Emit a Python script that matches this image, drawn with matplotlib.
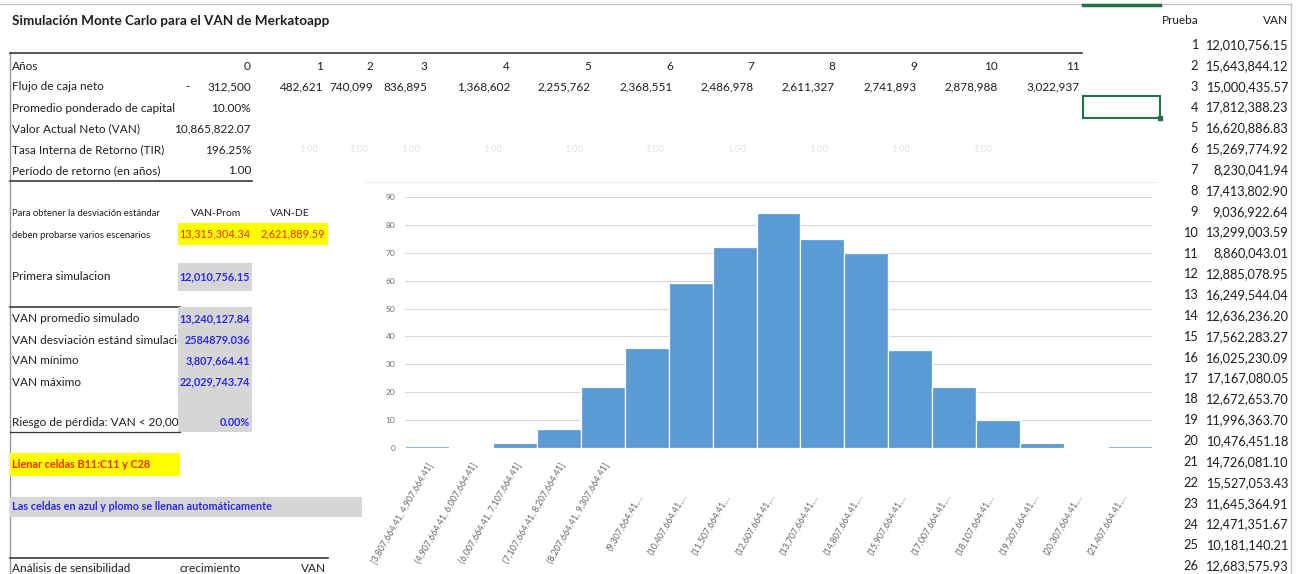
import matplotlib.pyplot as plt
from matplotlib.patches import Rectangle

plt.rcParams['font.family'] = ['Lato', 'DejaVu Sans']

# flujo de caja del proyecto
anios = list(range(12))
flujo_caja = [-312500, 482621, 740099, 836895, 1368602, 2255762, 2368551,
              2486978, 2611327, 2741893, 2878988, 3022937]

# indicadores del proyecto
wacc = 0.10
van = 10865822.07
tir = 1.9625
periodo_retorno = 1.00
van_prom = 13315304.34
van_de = 2621889.59
primera_sim = 12010756.15
van_sim_prom = 13240127.84
van_sim_de = 2584879.036
van_min = 3807664.41
van_max = 22029743.74
riesgo = 0.0

# primeras pruebas de la simulacion
pruebas = list(range(1, 27))
van_pruebas = [12010756.15, 15643844.12, 15000435.57, 17812388.23, 16620886.83,
               15269774.92, 8230041.94, 17413802.90, 9036922.64, 13299003.59,
               8860043.01, 12885078.95, 16249544.04, 12636236.20, 17562283.27,
               16025230.09, 17167080.05, 12672653.70, 11996363.70, 10476451.18,
               14726081.10, 15527053.43, 11645364.91, 12471351.67, 10181140.21,
               12683575.93]

# histograma del VAN simulado
intervalos = ['[3,807,664.41, 4,907,664.41]', '(4,907,664.41, 6,007,664.41]',
              '(6,007,664.41, 7,107,664.41]', '(7,107,664.41, 8,207,664.41]',
              '(8,207,664.41, 9,307,664.41]', '(9,307,664.41,…',
              '(10,407,664.41,…', '(11,507,664.41,…', '(12,607,664.41,…',
              '(13,707,664.41,…', '(14,807,664.41,…', '(15,907,664.41,…',
              '(17,007,664.41,…', '(18,107,664.41,…', '(19,207,664.41,…',
              '(20,307,664.41,…', '(21,407,664.41,…']
frecuencias = [1, 0, 2, 7, 22, 36, 59, 72, 84, 75, 70, 35, 22, 10, 2, 0, 1]

W, H = 1297, 574
fig = plt.figure(figsize=(W / 100, H / 100), dpi=100)
bg = fig.add_axes([0, 0, 1, 1])
bg.set_xlim(0, W)
bg.set_ylim(H, 0)
bg.axis('off')

TXT = '#1e1e1e'
AZUL = '#2b2bf0'
ROJO = '#ff2200'
PLOMO = '#d6d6d6'
FS = 8.5


def cell(x, y, s, ha='left', size=FS, color=TXT, weight='normal', z=2):
    bg.text(x, y, s, ha=ha, va='center', fontsize=size, color=color,
            fontweight=weight, zorder=z)


def hline(y, x0, x1, color='#3a3a3a', lw=1.2):
    bg.plot([x0, x1], [y, y], color=color, lw=lw, zorder=3)


def box(x0, y0, x1, y1, color):
    bg.add_patch(Rectangle((x0, y0), x1 - x0, y1 - y0, color=color, zorder=3, lw=0))


# marco de la hoja
hline(4, 0, 1291, color='#c4c4c4', lw=1)
bg.plot([1291, 1291], [4, H], color='#c4c4c4', lw=1)
bg.plot([9.5, 9.5], [52, H], color='#9a9a9a', lw=1)
hline(5, 1083, 1160, color='#217346', lw=2.5)

cell(12, 21, 'Simulación Monte Carlo para el VAN de Merkatoapp', size=9.7, weight='bold')

# tabla de flujos
col_der = [251, 323, 373, 427, 510, 591, 673, 754, 835, 917, 998, 1080]
hline(52.5, 10, 1082)
cell(12, 66, 'Años')
cell(12, 87, 'Flujo de caja neto')
for x, a, f in zip(col_der, anios, flujo_caja):
    cell(x, 66, str(a), ha='right')
    cell(x, 87, f'{abs(f):,.0f}', ha='right')
    if f < 0:
        cell(185, 87, '-')

filas = [('Promedio ponderado de capital', f'{wacc:.2%}'),
         ('Valor Actual Neto (VAN)', f'{van:,.2f}'),
         ('Tasa Interna de Retorno (TIR)', f'{tir:.2%}'),
         ('Período de retorno (en años)', f'{periodo_retorno:.2f}')]
for i, (etq, val) in enumerate(filas):
    y = 108 + 21 * i
    cell(12, y, etq)
    box(180, y - 10, 252, y + 10, 'white')
    cell(251, y, val, ha='right', z=4)
hline(180.5, 10, 252)

# valores tenues de la fila de la TIR
for x in [318, 368, 420, 502, 583, 664, 746, 828, 910, 992]:
    cell(x, 150, '1.00', ha='right', size=7, color='#e2e2e2')

# escenarios
cell(12, 213, 'Para obtener la desviación estándar', size=6.8)
cell(12, 235, 'deben probarse varios escenarios', size=6.8)
cell(216, 213, 'VAN-Prom', ha='center', size=7.5)
cell(290, 213, 'VAN-DE', ha='center', size=7.5)
box(178, 223, 328, 245, '#ffff00')
cell(250, 234, f'{van_prom:,.2f}', ha='right', size=7.8, color=ROJO, z=4)
cell(325, 234, f'{van_de:,.2f}', ha='right', size=7.8, color=ROJO, z=4)

cell(12, 277, 'Primera simulacion')
box(178, 263, 252, 291, PLOMO)
cell(250, 277, f'{primera_sim:,.2f}', ha='right', size=7.8, color=AZUL, weight='bold', z=4)

# resultados de la simulacion
hline(306.5, 10, 180)
box(178, 307, 252, 432, PLOMO)
resultados = [('VAN promedio simulado', f'{van_sim_prom:,.2f}'),
              ('VAN desviación estánd simulación', f'{van_sim_de:.3f}'),
              ('VAN mínimo', f'{van_min:,.2f}'),
              ('VAN máximo', f'{van_max:,.2f}')]
for i, (etq, val) in enumerate(resultados):
    y = 319 + 21 * i
    cell(12, y, etq)
    cell(250, y, val, ha='right', size=7.8, color=AZUL, weight='bold', z=4)
cell(12, 423, 'Riesgo de pérdida: VAN < 20,000')
cell(250, 423, f'{riesgo:.2%}', ha='right', size=7.8, color=AZUL, weight='bold', z=4)
hline(432, 10, 180, lw=0.9)

box(10, 453, 180, 476, '#ffff00')
cell(12, 464, 'Llenar celdas B11:C11 y C28', size=7.8, color=ROJO, weight='bold', z=4)
box(10, 497, 362, 517, PLOMO)
cell(12, 507, 'Las celdas en azul y plomo se llenan automáticamente', size=7.8,
     color=AZUL, weight='bold', z=4)

hline(558, 10, 328)
cell(12, 568, 'Análisis de sensibilidad')
cell(180, 568, 'crecimiento')
cell(326, 568, 'VAN', ha='right')

# columna de pruebas
cell(1162, 21, 'Prueba', size=8.5)
cell(1288, 21, 'VAN', ha='right', size=8.5)
for i, (p, v) in enumerate(zip(pruebas, van_pruebas)):
    y = 45 + 20.85 * i
    cell(1198, y, str(p), ha='right', size=9.2)
    cell(1288, y, f'{v:,.2f}', ha='right', size=9.2)

# celda seleccionada
bg.add_patch(Rectangle((1083, 96), 77, 22, fill=False, ec='#217346', lw=1.5, zorder=3))
bg.add_patch(Rectangle((1158, 116), 4, 4, color='#217346', zorder=4))

# grafico del histograma
hline(182, 365, 1155, color='#e8e8e8', lw=0.8)
ax = fig.add_axes([405 / W, (H - 448.3) / H, 747 / W, 251.6 / H])
ax.set_facecolor('none')
pos = list(range(len(frecuencias)))
ax.bar(pos, frecuencias, width=1, color='#5b9bd5', edgecolor='white', linewidth=0.9, zorder=3)
ax.set_xlim(-0.5, len(frecuencias) - 0.5)
ax.set_ylim(0, 90)
ax.set_yticks(range(0, 91, 10))
ax.yaxis.grid(True, color='#d9d9d9', lw=0.8, zorder=0)
ax.set_xticks(pos)
ax.set_xticklabels([])
ax.tick_params(axis='y', labelsize=6, labelcolor='#6e6e6e', length=0, pad=7)
ax.tick_params(axis='x', length=0)
for s in ax.spines.values():
    s.set_visible(False)
ax.axhline(0, color='#d9d9d9', lw=0.8, zorder=1)

# etiquetas de los intervalos (las truncadas quedan mas abajo)
for p, etq in zip(pos, intervalos):
    corta = etq.endswith('…')
    ax.text(p - (0.22 if corta else 0.0), -0.175 if corta else -0.05, etq,
            transform=ax.get_xaxis_transform(), rotation=60, ha='right', va='top',
            rotation_mode='anchor', fontsize=6.4, color='#666666', clip_on=False)

fig.savefig('out.png', dpi=100)
